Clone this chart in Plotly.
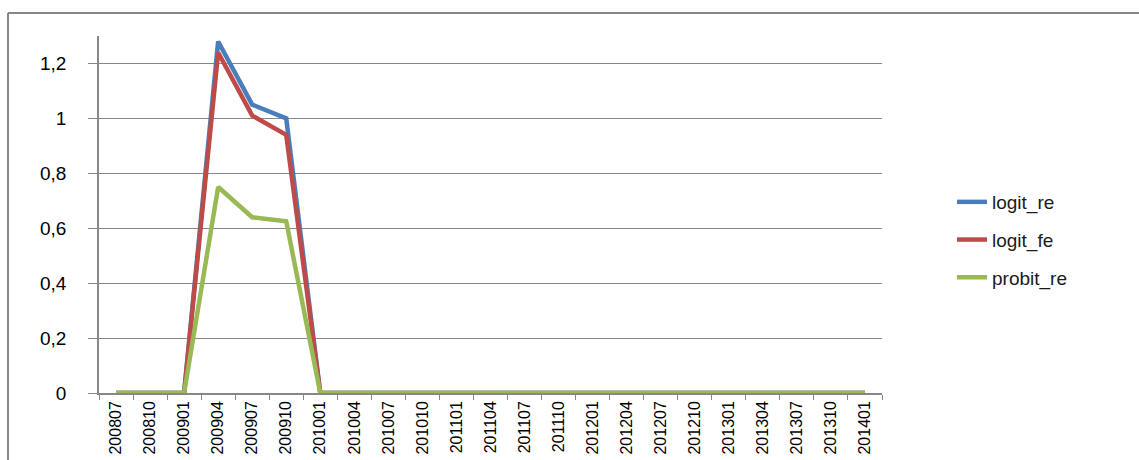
import plotly.graph_objects as go

# Quarterly periods (YYYYMM)
periods = [
    "200807", "200810", "200901", "200904", "200907", "200910",
    "201001", "201004", "201007", "201010", "201101", "201104",
    "201107", "201110", "201201", "201204", "201207", "201210",
    "201301", "201304", "201307", "201310", "201401",
]

logit_re = [0, 0, 0, 1.28, 1.05, 1.00, 0, 0, 0, 0, 0, 0,
            0, 0, 0, 0, 0, 0, 0, 0, 0, 0, 0]
logit_fe = [0, 0, 0, 1.24, 1.01, 0.94, 0, 0, 0, 0, 0, 0,
            0, 0, 0, 0, 0, 0, 0, 0, 0, 0, 0]
probit_re = [0, 0, 0, 0.75, 0.64, 0.625, 0, 0, 0, 0, 0, 0,
             0, 0, 0, 0, 0, 0, 0, 0, 0, 0, 0]

series = [
    ("logit_re", logit_re, "#4A7EBB"),
    ("logit_fe", logit_fe, "#BE4B48"),
    ("probit_re", probit_re, "#98B954"),
]

fig = go.Figure()
for i, (name, vals, color) in enumerate(series):
    fig.add_trace(go.Scatter(
        x=periods, y=vals, name=name, mode="lines",
        line=dict(color=color, width=4.5),
        legendgroup=f"g{i}",
    ))

W, H = 1139, 460
L, R, T, B = 99, 257, 36, 67
pw, ph = W - L - R, H - T - B

def px_x(x):
    return (x - L) / pw

def px_y(y):
    return (H - B - y) / ph

grey = "#878787"
fig.update_layout(
    width=W, height=H,
    margin=dict(l=L, r=R, t=T, b=B, pad=0, autoexpand=False),
    paper_bgcolor="white", plot_bgcolor="white",
    separators=",.",
    font=dict(family="Liberation Sans, Arial, sans-serif", color="black"),
    showlegend=True,
    legend=dict(
        x=px_x(952), y=px_y(240), xanchor="left", yanchor="middle",
        font=dict(size=19, color="#1a1a1a"),
        tracegroupgap=10, traceorder="grouped",
        bgcolor="rgba(0,0,0,0)",
    ),
    xaxis=dict(
        type="category", showgrid=False, showline=True, linecolor=grey,
        linewidth=1.5, ticks="outside", tickson="boundaries", ticklen=5,
        tickcolor=grey, tickangle=-90, tickfont=dict(size=16),
        range=[-0.5, len(periods) - 0.5], fixedrange=True,
        automargin=False,
    ),
    yaxis=dict(
        range=[0, 1.3], tickvals=[0, 0.2, 0.4, 0.6, 0.8, 1, 1.2],
        showgrid=True, gridcolor=grey, gridwidth=1.2,
        showline=True, linecolor=grey, linewidth=1.5,
        ticks="outside", ticklen=9, tickcolor=grey,
        tickfont=dict(size=19), ticklabelstandoff=18,
        zeroline=False, fixedrange=True, automargin=False,
    ),
    shapes=[
        # outer chart frame (top and left edges)
        dict(type="line", xref="paper", yref="paper",
             x0=px_x(8), x1=px_x(W + 5), y0=px_y(13), y1=px_y(13),
             line=dict(color=grey, width=2)),
        dict(type="line", xref="paper", yref="paper",
             x0=px_x(8), x1=px_x(8), y0=px_y(13), y1=px_y(H + 5),
             line=dict(color=grey, width=2)),
    ],
)

fig.write_html("out.html")
